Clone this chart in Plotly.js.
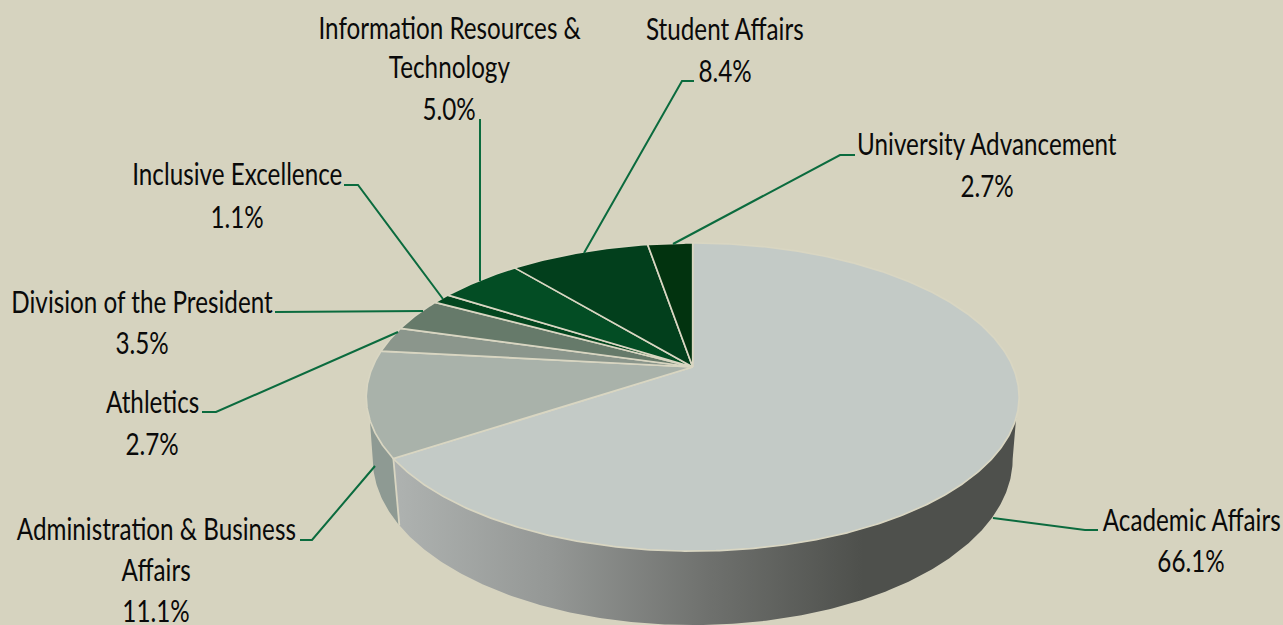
<!DOCTYPE html>
<html>
<head>
<meta charset="utf-8">
<script src="https://cdn.plot.ly/plotly-3.0.1.min.js"></script>
<style>html,body{margin:0;padding:0;background:#d6d3bf;overflow:hidden}#chart{width:1283px;height:625px}</style>
</head>
<body>
<div id="chart"></div>
<script>
// ---- Data ----
const categories = ["Academic Affairs","Administration & Business Affairs","Athletics","Division of the President","Inclusive Excellence","Information Resources & Technology","Student Affairs","University Advancement"];
const values = [66.1,11.1,2.7,3.5,1.1,5.0,8.4,2.7];
const valueLabels = ["66.1%","11.1%","2.7%","3.5%","1.1%","5.0%","8.4%","2.7%"];
const labelLines = [["Academic Affairs"],["Administration & Business","Affairs"],["Athletics"],["Division of the President"],["Inclusive Excellence"],["Information Resources &","Technology"],["Student Affairs"],["University Advancement"]];
const sliceColors = ["#c3cac6","#a9b2aa","#8b968c","#667a6a","#03461f","#034d24","#023f1c","#02330f"];

// ---- Layout of the drawing (axis units equal page pixels) ----
const labelCenterX = [1191,156,152,142,237,449,725,987];
const labelLineY = [[518.5,559.5],[527.5,568.5,610],[400.5,442.5],[300.5,341.5],[172.5,215.5],[26.5,65.5,107.5],[27.5,69.5],[142.5,184.5]];
const leaders = [
  [[993,518],[1085,530],[1098,530]],
  [[375,466],[312,540],[300,540]],
  [[398,332],[216,412],[202,412]],
  [[423,311],[275,312]],
  [[443,299],[358,185],[344,185]],
  [[480,281],[480,119]],
  [[584,253],[682,81],[694,81]],
  [[673,244],[840,155],[855,155]]
];
const BG = "#d6d3bf", CREAM = "#d9d6c2", LEADER = "#0b6b3e", TEXT = "#0a0a0a";
const FONT = 'Lato,"Open Sans",sans-serif', FONT_SIZE = 31, REF_TEXT_WIDTH = 178;
const apexX = 692.7, apexY = 367, P = 0.195, A = 148.2, B = 320.2;
const topC = {x:692.7,y:397,rx:326.5,ry:154}, lowC = {x:692.7,y:459,rx:320,ry:166};

// Tilted-disc projection: a pie angle (clockwise from the top) to the page.
function topPoint(deg){
  const t = deg*Math.PI/180, X = Math.sin(t), Y = Math.cos(t), d = 1+P*Y;
  return [apexX + B*X/d, apexY - A*Y/d];
}
function lowPoint(p){
  return [lowC.x+(p[0]-topC.x)*lowC.rx/topC.rx, lowC.y+(p[1]-topC.y)*lowC.ry/topC.ry];
}
const total = values.reduce((a,b)=>a+b,0);
const cuts = [0]; values.forEach((v,i)=>cuts.push(cuts[i]+v/total*360));

function arc(a0,a1,map){
  const n = Math.max(2,Math.ceil(Math.abs(a1-a0)*2)), out=[];
  for(let i=0;i<=n;i++){const p=topPoint(a0+(a1-a0)*i/n); out.push(map?map(p):p);}
  return out;
}
function angleAtTopY(y,from,to){ // bisect the rim for a page height
  let a=from,b=to,fa=topPoint(a)[1]-y;
  for(let i=0;i<40;i++){const m=(a+b)/2,fm=topPoint(m)[1]-y; if((fm>0)===(fa>0)){a=m;fa=fm;}else b=m;}
  return (a+b)/2;
}
function poly(pts,extra){
  return Object.assign({type:"scatter",mode:"lines",x:pts.map(p=>p[0]),y:pts.map(p=>p[1]),fill:"toself",hoverinfo:"skip",showlegend:false},extra);
}
const traces = [];

// Side wall: the rim's near part and the lower rim beneath it.
const rightA = angleAtTopY(397,60,130), leftA = angleAtTopY(397,230,300);
const startA = angleAtTopY(418,60,130), endA = angleAtTopY(420,230,300);
const split = cuts[1];
const wallA = arc(startA,split).concat(arc(split,rightA,lowPoint));
const wallB = arc(split,endA).concat(arc(leftA,split,lowPoint));
traces.push(poly(wallB,{line:{width:0,color:"#8e9a93"},fillcolor:"#8e9a93",name:categories[1]+" side"}));
traces.push(poly(wallA,{line:{width:0,color:"#4e504c"},name:categories[0]+" side",
  fillcolor:"#6a6c69",
  fillgradient:{type:"horizontal",start:396,stop:1018,colorscale:[[0,"#aeb2b0"],[0.25,"#949795"],[0.5,"#6f716e"],[0.75,"#4e504c"],[1,"#4e504c"]]}}));
// Cream edge between the two wall parts
const e0 = topPoint(split), e1 = lowPoint(e0);
traces.push({type:"scatter",mode:"lines",x:[e0[0],e1[0]],y:[e0[1],e1[1]],line:{color:CREAM,width:1.8},hoverinfo:"skip",showlegend:false});

// Top face, one wedge per value
values.forEach((v,i)=>{
  const pts=[[apexX,apexY]].concat(arc(cuts[i],cuts[i+1]));
  pts.push([apexX,apexY]);
  traces.push(poly(pts,{fillcolor:sliceColors[i],line:{color:CREAM,width:1.7},name:categories[i]}));
});

// Leader lines and labels
const shapes = leaders.map(l=>({type:"path",xref:"x",yref:"y",
  path:l.map((p,i)=>(i?"L":"M")+p[0]+" "+p[1]).join(" "),line:{color:LEADER,width:2}}));
const annotations=[];
categories.forEach((c,i)=>{
  labelLines[i].concat([valueLabels[i]]).forEach((t,j)=>{
    annotations.push({x:labelCenterX[i],y:labelLineY[i][j],xref:"x",yref:"y",text:t,showarrow:false,
      xanchor:"center",yanchor:"middle",font:{family:FONT,size:FONT_SIZE,color:TEXT}});
  });
});

Plotly.newPlot("chart",traces,{
  width:1283,height:625,margin:{l:0,r:0,t:0,b:0},paper_bgcolor:BG,plot_bgcolor:BG,showlegend:false,
  xaxis:{range:[0,1283],visible:false,fixedrange:true},
  yaxis:{range:[625,0],visible:false,fixedrange:true},
  shapes,annotations
},{displayModeBar:false,staticPlot:true}).then(gd=>{
  // The reference's type is a condensed face: narrow each label about its own centre.
  const texts=[...gd.querySelectorAll(".annotation-text-g text")];
  const refEl=texts.find(t=>t.textContent===labelLines[0][0]);
  const k=REF_TEXT_WIDTH/refEl.getBBox().width;
  texts.forEach(t=>{
    const b=t.getBBox(), cx=b.x+b.width/2;
    t.setAttribute("transform",`translate(${cx} 0) scale(${k} 1) translate(${-cx} 0)`);
  });
});
</script>
</body>
</html>
